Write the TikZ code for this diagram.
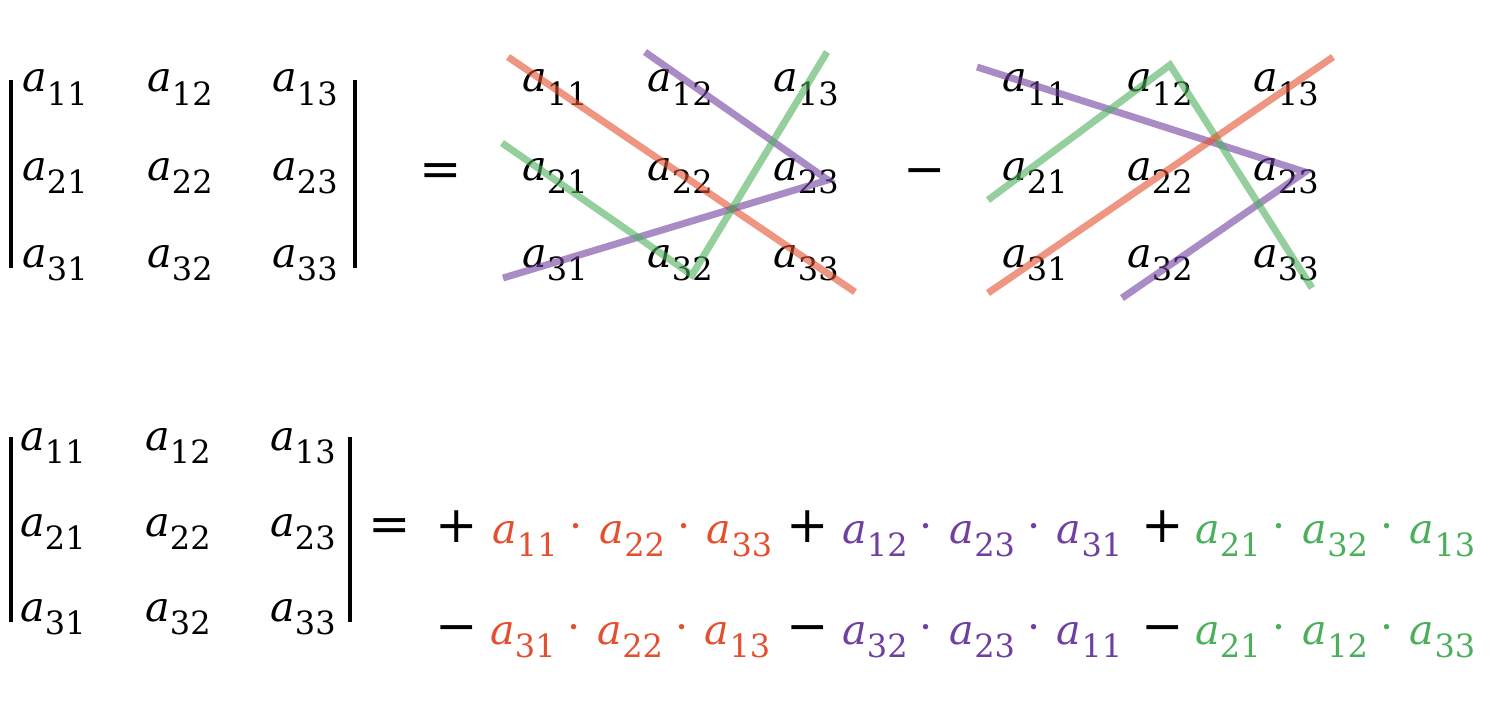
\RequirePackage{fix-cm}
\documentclass[tikz,border=0pt]{standalone}
\usepackage{fontspec}
\usepackage{tikz}

\newfontfamily\detfont{DejaVu Serif}

\definecolor{detred}{HTML}{E4502F}
\definecolor{detpurple}{HTML}{7040A0}
\definecolor{detgreen}{HTML}{4CAF5C}

\newcommand\ent[1]{{\itshape a}\raisebox{-9.75pt}{\fontsize{24}{27}\selectfont #1}}
\newcommand\mdot{\makebox[0pt]{\raisebox{2pt}{·}}}
\newcommand\trio[3]{\makebox[63pt][l]{\ent{#1}}\mdot\hspace{17.5pt}%
    \makebox[63pt][l]{\ent{#2}}\mdot\hspace{17.5pt}\ent{#3}}

\begin{document}
\begin{tikzpicture}[x=0.75pt,y=-0.75pt,
                entry/.style={inner sep=0pt,anchor=base west,font=\detfont\fontsize{31}{36}\selectfont},
                op/.style={inner sep=0pt,anchor=base,font=\detfont\fontsize{38}{44}\selectfont},
                bar/.style={line width=3pt},
                redline/.style={draw=detred,draw opacity=0.6,line width=5.25pt},
                purpleline/.style={draw=detpurple,draw opacity=0.6,line width=5.25pt},
                greenline/.style={draw=detgreen,draw opacity=0.6,line width=5.25pt}]

            \useasboundingbox (0,0) rectangle (1512,710);

            % top left determinant
            \node[entry] (A11) at (22,92) {\ent{11}};
            \node[entry] (A12) at (147,92) {\ent{12}};
            \node[entry] (A13) at (272,92) {\ent{13}};
            \node[entry] (A21) at (22,180) {\ent{21}};
            \node[entry] (A22) at (147,180) {\ent{22}};
            \node[entry] (A23) at (272,180) {\ent{23}};
            \node[entry] (A31) at (22,267) {\ent{31}};
            \node[entry] (A32) at (147,267) {\ent{32}};
            \node[entry] (A33) at (272,267) {\ent{33}};
            \draw[bar] (10.5,80) -- (10.5,268);
            \draw[bar] (354.5,80) -- (354.5,268);

            \node[op] (eqA) at (441,186) {=};

            % plus diagonals
            \node[entry] (B11) at (522,92) {\ent{11}};
            \node[entry] (B12) at (647,92) {\ent{12}};
            \node[entry] (B13) at (773,92) {\ent{13}};
            \node[entry] (B21) at (522,180) {\ent{21}};
            \node[entry] (B22) at (647,180) {\ent{22}};
            \node[entry] (B23) at (773,180) {\ent{23}};
            \node[entry] (B31) at (522,267) {\ent{31}};
            \node[entry] (B32) at (647,267) {\ent{32}};
            \node[entry] (B33) at (773,267) {\ent{33}};

            \node[op] (minusB) at (925,186) {−};

            % minus diagonals
            \node[entry] (C11) at (1002,92) {\ent{11}};
            \node[entry] (C12) at (1127,92) {\ent{12}};
            \node[entry] (C13) at (1253,92) {\ent{13}};
            \node[entry] (C21) at (1002,180) {\ent{21}};
            \node[entry] (C22) at (1127,180) {\ent{22}};
            \node[entry] (C23) at (1253,180) {\ent{23}};
            \node[entry] (C31) at (1002,267) {\ent{31}};
            \node[entry] (C32) at (1127,267) {\ent{32}};
            \node[entry] (C33) at (1253,267) {\ent{33}};

            \coordinate (Br1) at (508,57);
            \coordinate (Br2) at (855,292);
            \coordinate (Bp1) at (645,52);
            \coordinate (Bp2) at (828,180);
            \coordinate (Bp3) at (503,278);
            \coordinate (Bg1) at (502,143);
            \coordinate (Bg2) at (692,275);
            \coordinate (Bg3) at (827,52);
            \draw[redline] (Br1) -- (Br2);
            \draw[purpleline] (Bp1) -- (Bp2) -- (Bp3);
            \draw[greenline] (Bg1) -- (Bg2) -- (Bg3);

            \coordinate (Cp1) at (977,67);
            \coordinate (Cp2) at (1305,172);
            \coordinate (Cp3) at (1122,298);
            \coordinate (Cg1) at (988,200);
            \coordinate (Cg2) at (1170,65);
            \coordinate (Cg3) at (1312,288);
            \coordinate (Cr1) at (988,293);
            \coordinate (Cr2) at (1333,57);
            \draw[purpleline] (Cp1) -- (Cp2) -- (Cp3);
            \draw[greenline] (Cg1) -- (Cg2) -- (Cg3);
            \draw[redline] (Cr1) -- (Cr2);

            % bottom determinant
            \node[entry] (D11) at (20,450) {\ent{11}};
            \node[entry] (D12) at (145,450) {\ent{12}};
            \node[entry] (D13) at (270,450) {\ent{13}};
            \node[entry] (D21) at (20,536) {\ent{21}};
            \node[entry] (D22) at (145,536) {\ent{22}};
            \node[entry] (D23) at (270,536) {\ent{23}};
            \node[entry] (D31) at (20,621) {\ent{31}};
            \node[entry] (D32) at (145,621) {\ent{32}};
            \node[entry] (D33) at (270,621) {\ent{33}};
            \draw[bar] (10.5,437) -- (10.5,622);
            \draw[bar] (350,437) -- (350,622);

            \node[op] (eqD) at (390,541) {=};

            % expansion
            \node[op] (plus1) at (457,542) {+};
            \node[entry, text=detred] (T1) at (492,543) {\trio{11}{22}{33}};
            \node[op] (plus2) at (808,542) {+};
            \node[entry, text=detpurple] (T2) at (842,543) {\trio{12}{23}{31}};
            \node[op] (plus3) at (1163,542) {+};
            \node[entry, text=detgreen] (T3) at (1195,543) {\trio{21}{32}{13}};

            \node[op] (minus1) at (457,643) {−};
            \node[entry, text=detred] (T4) at (490,644) {\trio{31}{22}{13}};
            \node[op] (minus2) at (808,643) {−};
            \node[entry, text=detpurple] (T5) at (842,644) {\trio{32}{23}{11}};
            \node[op] (minus3) at (1163,643) {−};
            \node[entry, text=detgreen] (T6) at (1195,644) {\trio{21}{12}{33}};

        \end{tikzpicture}
\end{document}
